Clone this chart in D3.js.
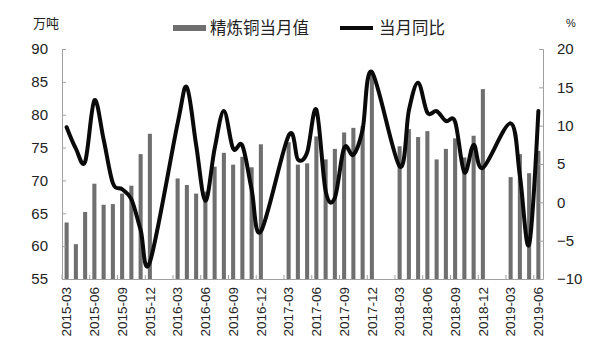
<!DOCTYPE html>
<html>
<head>
<meta charset="utf-8">
<script src="https://cdn.jsdelivr.net/npm/d3@7"></script>
<style>
  html, body { margin: 0; padding: 0; background: #fff; }
  svg { display: block; }
  text { font-family: "Liberation Sans", Arial, sans-serif; fill: #222; }
  .cjk { font-family: "Noto Sans CJK SC", sans-serif; }
</style>
</head>
<body>
<svg id="chart" width="600" height="361"></svg>
<script>
const months = [
  "2015-03","2015-04","2015-05","2015-06","2015-07","2015-08","2015-09","2015-10","2015-11","2015-12",
  "2016-01","2016-02","2016-03","2016-04","2016-05","2016-06","2016-07","2016-08","2016-09","2016-10","2016-11","2016-12",
  "2017-01","2017-02","2017-03","2017-04","2017-05","2017-06","2017-07","2017-08","2017-09","2017-10","2017-11","2017-12",
  "2018-01","2018-02","2018-03","2018-04","2018-05","2018-06","2018-07","2018-08","2018-09","2018-10","2018-11","2018-12",
  "2019-01","2019-02","2019-03","2019-04","2019-05","2019-06"
];
// 精炼铜当月值 (万吨)
const output = [
  63.6, 60.3, 65.2, 69.5, 66.3, 66.4, 68.0, 69.2, 74.0, 77.1,
  null, null, 70.3, 69.3, 68.0, 68.3, 72.1, 74.2, 72.4, 73.6, 72.0, 75.5,
  null, null, 75.8, 72.4, 72.6, 76.7, 73.2, 74.8, 77.3, 78.0, 78.3, 86.3,
  null, null, 75.2, 77.8, 76.6, 77.5, 73.2, 74.8, 76.4, 73.5, 76.8, 83.9,
  null, null, 70.5, 74.0, 71.1, 74.5
];
// 当月同比 (%)
const yoy = [
  9.8, 7.0, 5.3, 13.3, 8.2, 2.5, 1.7, 0.4, -3.6, -7.8,
  null, null, 10.3, 15.0, 7.5, 0.2, 7.0, 11.9, 7.0, 7.4, 1.7, -3.8,
  null, null, 8.7, 5.6, 6.5, 12.1, 1.5, 0.6, 7.1, 6.2, 9.5, 17.0,
  null, null, 4.7, 12.0, 15.6, 11.7, 11.9, 10.6, 10.5, 3.9, 7.5, 4.5,
  null, null, 10.3, 3.5, -5.5, 11.9
];
const leftTicks = [55, 60, 65, 70, 75, 80, 85, 90];
const rightTicks = [-10, -5, 0, 5, 10, 15, 20];
const xLabels = ["2015-03","2015-06","2015-09","2015-12","2016-03","2016-06","2016-09","2016-12",
  "2017-03","2017-06","2017-09","2017-12","2018-03","2018-06","2018-09","2018-12","2019-03","2019-06"];
const barName = "精炼铜当月值";
const lineName = "当月同比";

const svg = d3.select("#chart");
const L = 62, R = 543, T = 49, B = 279;

const x = d3.scaleBand().domain(months).range([L, R]).paddingInner(0.56).paddingOuter(0.28);
const yL = d3.scaleLinear().domain([55, 90]).range([B, T]);
const yR = d3.scaleLinear().domain([-10, 20]).range([B, T]);
const cx = m => x(m) + x.bandwidth() / 2;

const axisColor = "#a0a0a0";

// bars
const barData = months.map((m, i) => ({m, v: output[i]})).filter(d => d.v != null);
svg.append("g").selectAll("rect").data(barData).join("rect")
  .attr("x", d => x(d.m))
  .attr("y", d => yL(d.v))
  .attr("width", x.bandwidth())
  .attr("height", d => B - yL(d.v))
  .attr("fill", "#6f6f6f");

// left axis
const gL = svg.append("g").attr("transform", `translate(${L},0)`)
  .call(d3.axisLeft(yL).tickValues(leftTicks).tickSize(-4).tickPadding(14).tickFormat(d3.format("d")));
gL.select(".domain").attr("stroke", axisColor);
gL.selectAll(".tick line").attr("stroke", axisColor);
gL.selectAll("text").attr("font-size", 15).attr("fill", "#222")
  .attr("font-family", "'Liberation Sans', Arial, sans-serif");

// right axis
const gR = svg.append("g").attr("transform", `translate(${R},0)`)
  .call(d3.axisRight(yR).tickValues(rightTicks).tickSize(-4).tickPadding(14).tickFormat(d3.format("d")));
gR.select(".domain").attr("stroke", axisColor);
gR.selectAll(".tick line").attr("stroke", axisColor);
gR.selectAll("text").attr("font-size", 15).attr("fill", "#222")
  .attr("font-family", "'Liberation Sans', Arial, sans-serif");

// bottom axis
const gB = svg.append("g").attr("transform", `translate(0,${B})`)
  .call(d3.axisBottom(x).tickValues(xLabels).tickSize(0).tickPadding(0));
gB.select(".domain").attr("stroke", axisColor).attr("d", `M${L},0.5H${R}`);
gB.selectAll(".tick text")
  .attr("font-size", 13.5).attr("fill", "#222")
  .attr("font-family", "'Liberation Sans', Arial, sans-serif")
  .attr("text-anchor", "end")
  .attr("transform", "translate(0,8) rotate(-90)")
  .attr("x", 0).attr("y", 0).attr("dy", "0.35em");
// small inner ticks at category group boundaries (every 3 months)
const tickPos = xLabels.map(m => x(m) - x.step() * x.paddingInner() / 2 - (x.step() - x.bandwidth()) / 2 + x.step() * x.paddingInner() / 2);
svg.append("g").selectAll("line").data(xLabels).join("line")
  .attr("x1", m => x(m) - (x.step() - x.bandwidth()) / 2)
  .attr("x2", m => x(m) - (x.step() - x.bandwidth()) / 2)
  .attr("y1", B).attr("y2", B - 4)
  .attr("stroke", axisColor);

// line
const lineData = months.map((m, i) => ({m, v: yoy[i]})).filter(d => d.v != null);
svg.append("path").datum(lineData)
  .attr("fill", "none")
  .attr("stroke", "#0a0a0a")
  .attr("stroke-width", 4)
  .attr("stroke-linejoin", "round")
  .attr("stroke-linecap", "round")
  .attr("d", d3.line().x(d => cx(d.m)).y(d => yR(d.v)).curve(d3.curveCardinal.tension(0)));

// unit labels
svg.append("text").attr("class", "cjk").attr("x", 33).attr("y", 28)
  .attr("font-size", 13).text("万吨");
svg.append("text").attr("x", 566).attr("y", 27)
  .attr("font-size", 11).text("%");

// legend
svg.append("rect").attr("x", 173).attr("y", 25).attr("width", 33).attr("height", 6).attr("fill", "#6f6f6f");
svg.append("text").attr("class", "cjk").attr("x", 210).attr("y", 34).attr("font-size", 16.5).text(barName);
svg.append("line").attr("x1", 340).attr("x2", 373).attr("y1", 28).attr("y2", 28)
  .attr("stroke", "#0a0a0a").attr("stroke-width", 4);
svg.append("text").attr("class", "cjk").attr("x", 379).attr("y", 34).attr("font-size", 16.5).text(lineName);
</script>
</body>
</html>
